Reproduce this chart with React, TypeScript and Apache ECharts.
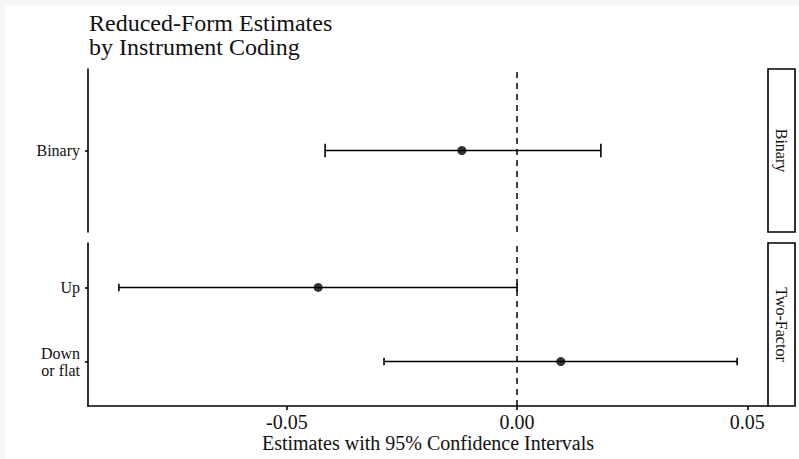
import React, { useEffect, useRef } from "react";
import * as echarts from "echarts";

const TITLE = "Reduced-Form Estimates\nby Instrument Coding";
const X_NAME = "Estimates with 95% Confidence Intervals";
const PANELS = ["Binary", "Two-Factor"];
const CATEGORIES_BINARY = ["Binary"];
const CATEGORIES_TWO = ["Down\nor flat", "Up"]; // bottom to top
const ESTIMATE_BINARY = [-0.012];
const LOWER_BINARY = [-0.0417];
const UPPER_BINARY = [0.0182];
const ESTIMATE_TWO = [0.0095, -0.0432];
const LOWER_TWO = [-0.0289, -0.0865];
const UPPER_TWO = [0.0478, 0.0];
const X_TICKS = [-0.05, 0, 0.05];
const X_MIN = -0.0932;
const X_MAX = 0.0545;

const FONT = "'Liberation Serif', serif";
const INK = "#000";
const LW = 1.6;

export default function App() {
  const ref = useRef<HTMLDivElement>(null);
  useEffect(() => {
    if (!ref.current) return;
    const chart = echarts.init(ref.current, null, { renderer: "svg" });

    const errRender = (params: any, api: any) => {
      const lo = api.value(0);
      const hi = api.value(1);
      const y = api.value(2);
      const p1 = api.coord([lo, y]);
      const p2 = api.coord([hi, y]);
      const h = api.size([0, 0.1])[1] / 2;
      const st = { stroke: INK, lineWidth: LW };
      return {
        type: "group",
        children: [
          { type: "line", shape: { x1: p1[0], y1: p1[1], x2: p2[0], y2: p2[1] }, style: st },
          { type: "line", shape: { x1: p1[0], y1: p1[1] - h, x2: p1[0], y2: p1[1] + h }, style: st },
          { type: "line", shape: { x1: p2[0], y1: p2[1] - h, x2: p2[0], y2: p2[1] + h }, style: st },
        ],
      };
    };

    const zeroLine = {
      silent: true,
      symbol: ["none", "none"],
      label: { show: false },
      lineStyle: { color: INK, width: 1.5, type: [6, 5] as any },
      data: [{ xAxis: 0 }],
    };

    const binErr = CATEGORIES_BINARY.map((_, i) => [LOWER_BINARY[i], UPPER_BINARY[i], i + 1]);
    const binPts = CATEGORIES_BINARY.map((_, i) => [ESTIMATE_BINARY[i], i + 1]);
    const twoErr = CATEGORIES_TWO.map((_, i) => [LOWER_TWO[i], UPPER_TWO[i], i + 1]);
    const twoPts = CATEGORIES_TWO.map((_, i) => [ESTIMATE_TWO[i], i + 1]);

    const yLabel = {
      fontFamily: FONT,
      fontSize: 16,
      color: "#111",
      margin: 8,
      lineHeight: 17,
    };

    const option: any = {
      animation: false,
      backgroundColor: "#fff",
      title: {
        text: TITLE,
        left: 84,
        top: 6,
        textStyle: {
          fontFamily: FONT,
          fontSize: 24,
          lineHeight: 24,
          fontWeight: "normal",
          color: "#111",
        },
      },
      grid: [
        { left: 88, top: 69, width: 680, height: 163 },
        { left: 88, top: 243, width: 680, height: 163 },
      ],
      xAxis: [
        {
          gridIndex: 0,
          type: "value",
          min: X_MIN,
          max: X_MAX,
          axisLine: { show: false },
          axisTick: { show: false },
          axisLabel: { show: false },
          splitLine: { show: false },
        },
        {
          gridIndex: 1,
          type: "value",
          min: X_MIN,
          max: X_MAX,
          name: X_NAME,
          nameLocation: "middle",
          nameGap: 26,
          nameTextStyle: { fontFamily: FONT, fontSize: 20, color: "#111" },
          axisLine: { show: true, onZero: false, lineStyle: { color: INK, width: LW } },
          axisTick: { show: true, length: 4, customValues: X_TICKS, lineStyle: { color: INK, width: LW } },
          axisLabel: {
            customValues: X_TICKS,
            formatter: (v: number) => v.toFixed(2),
            fontFamily: FONT,
            fontSize: 20,
            color: "#111",
            margin: 6,
          },
          splitLine: { show: false },
        },
      ],
      yAxis: [
        {
          gridIndex: 0,
          type: "value",
          min: 0.4,
          max: CATEGORIES_BINARY.length + 0.6,
          axisLine: { show: true, onZero: false, lineStyle: { color: INK, width: LW } },
          axisTick: { show: true, length: 3, customValues: [1], lineStyle: { color: INK, width: LW } },
          axisLabel: {
            ...yLabel,
            customValues: [1],
            formatter: (v: number) => CATEGORIES_BINARY[Math.round(v) - 1] ?? "",
          },
          splitLine: { show: false },
        },
        {
          gridIndex: 1,
          type: "value",
          min: 0.4,
          max: CATEGORIES_TWO.length + 0.6,
          axisLine: { show: true, onZero: false, lineStyle: { color: INK, width: LW } },
          axisTick: { show: true, length: 3, customValues: [1, 2], lineStyle: { color: INK, width: LW } },
          axisLabel: {
            ...yLabel,
            customValues: [1, 2],
            formatter: (v: number) => CATEGORIES_TWO[Math.round(v) - 1] ?? "",
          },
          splitLine: { show: false },
        },
      ],
      series: [
        {
          type: "custom",
          xAxisIndex: 0,
          yAxisIndex: 0,
          renderItem: errRender,
          encode: { x: [0, 1], y: 2 },
          data: binErr,
          markLine: zeroLine,
          z: 2,
        },
        {
          type: "scatter",
          xAxisIndex: 0,
          yAxisIndex: 0,
          symbolSize: 9,
          itemStyle: { color: INK },
          data: binPts,
          z: 3,
        },
        {
          type: "custom",
          xAxisIndex: 1,
          yAxisIndex: 1,
          renderItem: errRender,
          encode: { x: [0, 1], y: 2 },
          data: twoErr,
          markLine: zeroLine,
          z: 2,
        },
        {
          type: "scatter",
          xAxisIndex: 1,
          yAxisIndex: 1,
          symbolSize: 9,
          itemStyle: { color: INK },
          data: twoPts,
          z: 3,
        },
      ],
      graphic: [
        { type: "rect", shape: { x: 0, y: 0, width: 5, height: 459 }, style: { fill: "#f7f7f7" }, silent: true },
        { type: "rect", shape: { x: 0, y: 0, width: 799, height: 5 }, style: { fill: "#f7f7f7" }, silent: true },
        {
          type: "rect",
          shape: { x: 768, y: 69, width: 27, height: 163 },
          style: { fill: "#fff", stroke: INK, lineWidth: LW },
        },
        {
          type: "rect",
          shape: { x: 768, y: 243, width: 27, height: 163 },
          style: { fill: "#fff", stroke: INK, lineWidth: LW },
        },
        {
          type: "text",
          x: 781.5,
          y: 150.5,
          rotation: -Math.PI / 2,
          style: {
            text: PANELS[0],
            fontFamily: FONT,
            fontSize: 16,
            fill: "#111",
            textAlign: "center",
            textVerticalAlign: "middle",
          },
        },
        {
          type: "text",
          x: 781.5,
          y: 324.5,
          rotation: -Math.PI / 2,
          style: {
            text: PANELS[1],
            fontFamily: FONT,
            fontSize: 16,
            fill: "#111",
            textAlign: "center",
            textVerticalAlign: "middle",
          },
        },
      ],
    };
    chart.setOption(option);
    return () => chart.dispose();
  }, []);

  return (
    <div
      ref={ref}
      style={{ position: "fixed", left: 0, top: 0, width: 799, height: 459 }}
    />
  );
}
